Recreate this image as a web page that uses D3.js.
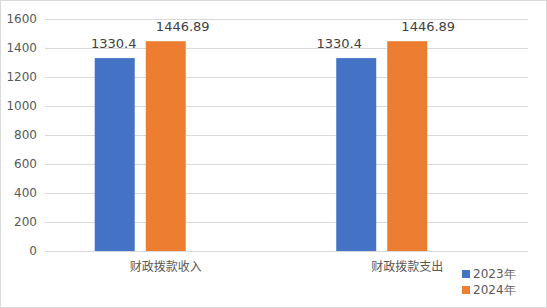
<!DOCTYPE html>
<html lang="zh">
    <head>
        <meta charset="utf-8">
        <title>财政拨款收支</title>
        <script src="https://d3js.org/d3.v7.min.js"></script>
        <style>
            html, body {
                margin: 0;
                padding: 0;
                background: #fff;
            }
            svg {
                display: block;
                font-family: "DejaVu Sans", sans-serif;
            }
        </style>
    </head>
    <body>
        <svg id="chart"></svg>
        <script>
            // data
            const categories = ["财政拨款收入", "财政拨款支出"];
            const seriesNames = ["2023年", "2024年"];
            const values2023 = [1330.4, 1330.4];
            const values2024 = [1446.89, 1446.89];
            const valueLabels2023 = ["1330.4", "1330.4"];
            const valueLabels2024 = ["1446.89", "1446.89"];
            const yTicks = [0, 200, 400, 600, 800, 1000, 1200, 1400, 1600];
            const colors = ["#4472C4", "#ED7D31"];

            const width = 547, height = 308;
            const plot = { left: 45, right: 528, top: 19, bottom: 251 };
            // hand-moved data labels in the original (px, per series per category)
            const labelNudge = [[-1, -17], [17, 21]];

            const svg = d3.select("#chart")
                .attr("width", width)
                .attr("height", height);

            // outer border
            svg.append("rect")
                .attr("x", 0.5).attr("y", 0.5)
                .attr("width", width - 1).attr("height", height - 1)
                .attr("fill", "#fff")
                .attr("stroke", "#d9d9d9");

            const x0 = d3.scaleBand()
                .domain(categories)
                .range([plot.left, plot.right]);

            // third slot is an empty series (keeps bars left of the label, as in the original)
            const x1 = d3.scaleBand()
                .domain(["s0", "s1", "s2"])
                .range([0, x0.bandwidth()])
                .paddingInner(0.216)
                .paddingOuter(0.975);

            const y = d3.scaleLinear()
                .domain([0, 1600])
                .range([plot.bottom, plot.top]);

            // gridlines
            svg.append("g")
                .selectAll("line")
                .data(yTicks)
                .enter()
                .append("line")
                .attr("x1", plot.left)
                .attr("x2", plot.right)
                .attr("y1", d => Math.round(y(d)) + 0.5)
                .attr("y2", d => Math.round(y(d)) + 0.5)
                .attr("stroke", "#d9d9d9");

            // y tick labels
            svg.append("g")
                .selectAll("text")
                .data(yTicks)
                .enter()
                .append("text")
                .attr("x", 37)
                .attr("y", d => y(d))
                .attr("dy", "0.36em")
                .attr("text-anchor", "end")
                .attr("fill", "#595959")
                .attr("font-size", 12)
                .text(d => d);

            const series = [
                { key: "s0", values: values2023, labels: valueLabels2023, color: colors[0] },
                { key: "s1", values: values2024, labels: valueLabels2024, color: colors[1] }
            ];

            const groups = svg.append("g")
                .selectAll("g")
                .data(categories)
                .enter()
                .append("g")
                .attr("transform", d => `translate(${x0(d)},0)`);

            series.forEach((s, si) => {
                groups.append("rect")
                    .attr("x", (d, i) => x1(s.key))
                    .attr("y", (d, i) => y(s.values[i]))
                    .attr("width", x1.bandwidth())
                    .attr("height", (d, i) => y(0) - y(s.values[i]))
                    .attr("fill", s.color);

                groups.append("text")
                    .attr("x", (d, i) => x1(s.key) + x1.bandwidth() / 2 + labelNudge[si][i])
                    .attr("y", (d, i) => y(s.values[i]) - 10)
                    .attr("text-anchor", "middle")
                    .attr("fill", "#404040")
                    .attr("font-size", 13)
                    .text((d, i) => s.labels[i]);
            });

            // category labels
            svg.append("g")
                .selectAll("text")
                .data(categories)
                .enter()
                .append("text")
                .attr("x", d => x0(d) + x0.bandwidth() / 2)
                .attr("y", 271)
                .attr("text-anchor", "middle")
                .attr("fill", "#595959")
                .attr("font-size", 12)
                .attr("font-family", "'Noto Sans CJK SC', sans-serif")
                .text(d => d);

            // legend
            const legend = svg.append("g")
                .selectAll("g")
                .data(seriesNames)
                .enter()
                .append("g")
                .attr("transform", (d, i) => `translate(462,${270 + i * 16})`);

            legend.append("rect")
                .attr("width", 8)
                .attr("height", 8)
                .attr("fill", (d, i) => colors[i]);

            legend.append("text")
                .attr("x", 11)
                .attr("y", 4)
                .attr("dy", "0.36em")
                .attr("fill", "#595959")
                .attr("font-size", 12)
                .text(d => d);
        </script>
    </body>
</html>
